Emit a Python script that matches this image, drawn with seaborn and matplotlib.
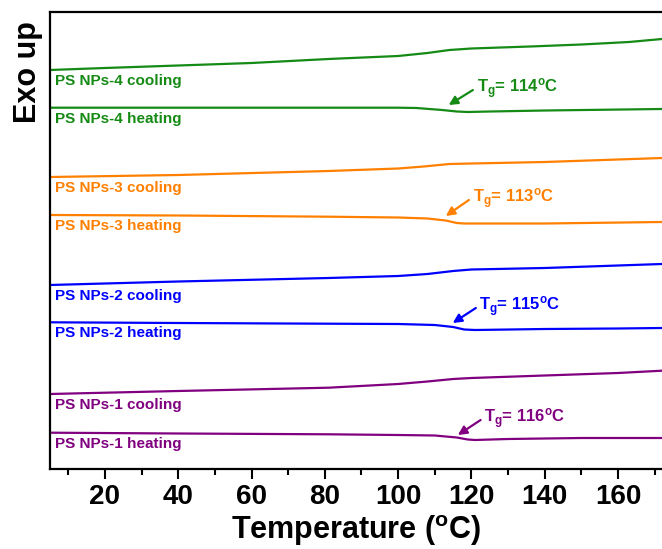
import matplotlib
matplotlib.use("Agg")
import matplotlib.pyplot as plt
import seaborn as sns
import pandas as pd

# ---- data (arbitrary heat-flow units) ----
t_g4c = [5, 20, 40, 60, 81, 100, 108, 114, 120, 136, 150, 163, 172]
y_g4c = [399, 401, 403.5, 406, 410, 413, 416, 419, 420.5, 422.5, 424.5, 427, 430]
t_g4h = [5, 40, 81, 100, 105, 112, 116, 119, 125, 140, 172]
y_g4h = [361.3, 361.3, 361.3, 361.3, 361, 359, 357.5, 357, 357.5, 358.5, 360]

t_o3c = [5, 40, 81, 100, 107, 114, 120, 140, 160, 172]
y_o3c = [292, 294, 298, 300.5, 302.5, 305, 305.5, 307, 309.5, 311]
t_o3h = [5, 40, 81, 100, 108, 113, 116, 118, 125, 140, 172]
y_o3h = [254, 253.5, 252.3, 251.5, 250.5, 248.5, 246, 245.5, 245.5, 245.5, 247]

t_b2c = [5, 40, 81, 100, 108, 115, 120, 140, 160, 172]
y_b2c = [184, 187.5, 191, 193, 195, 198, 199.5, 201, 203.5, 205]
t_b2h = [5, 40, 81, 100, 110, 115, 118, 121, 140, 160, 172]
y_b2h = [146.7, 146, 145.3, 145, 144, 142, 139.5, 139, 140, 140.5, 141]

t_p1c = [5, 40, 81, 100, 108, 115, 120, 140, 160, 172]
y_p1c = [75, 78, 81.3, 85, 87.5, 90, 91, 93.5, 96, 98.3]
t_p1h = [5, 40, 81, 100, 110, 116, 119, 121, 130, 150, 172]
y_p1h = [36.3, 35.5, 34.7, 34, 33.5, 31.5, 29.5, 29, 30, 31, 31]

curve_labels = ["PS NPs-4 cooling", "PS NPs-4 heating",
                "PS NPs-3 cooling", "PS NPs-3 heating",
                "PS NPs-2 cooling", "PS NPs-2 heating",
                "PS NPs-1 cooling", "PS NPs-1 heating"]
tg_texts = ["114", "113", "115", "116"]
tg_tip_x = [113.8, 113.0, 114.9, 116.3]
tg_tip_y = [364, 253, 146, 34]
tg_tail_x = [120.4, 119.3, 121.2, 122.5]
tg_tail_y = [379, 269, 161, 49]
x_ticks = [20, 40, 60, 80, 100, 120, 140, 160]

colors = ["#158a15", "#ff8000", "#0000ff", "#800080"]

curves = [(t_g4c, y_g4c), (t_g4h, y_g4h), (t_o3c, y_o3c), (t_o3h, y_o3h),
          (t_b2c, y_b2c), (t_b2h, y_b2h), (t_p1c, y_p1c), (t_p1h, y_p1h)]

sns.set_theme(style="white")
plt.rcParams["font.family"] = ["Liberation Sans", "DejaVu Sans"]
plt.rcParams["mathtext.fontset"] = "custom"
plt.rcParams["mathtext.rm"] = "Liberation Sans:bold"
plt.rcParams["mathtext.bf"] = "Liberation Sans:bold"
plt.rcParams["mathtext.it"] = "Liberation Sans:bold"
plt.rcParams["text.color"] = "black"
plt.rcParams["axes.labelcolor"] = "black"
plt.rcParams["xtick.color"] = "black"

fig = plt.figure(figsize=(6.62, 5.49), dpi=100)
ax = fig.add_axes([50 / 662, 80 / 549, 1 - 50 / 662, (469 - 12) / 549])

for i, ((tx, ty), lab) in enumerate(zip(curves, curve_labels)):
    c = colors[i // 2]
    df = pd.DataFrame({"T": tx, "y": ty})
    sns.lineplot(data=df, x="T", y="y", ax=ax, color=c, lw=1.6, sort=True)
    ax.text(6.5, ty[0] - 4, lab, color=c, fontsize=11, fontweight="bold",
            ha="left", va="top")

for k in range(4):
    c = colors[k]
    ax.annotate("", xy=(tg_tip_x[k], tg_tip_y[k]), xytext=(tg_tail_x[k], tg_tail_y[k]),
                arrowprops=dict(arrowstyle="-|>", color=c, lw=1.6,
                                mutation_scale=13, shrinkA=0, shrinkB=0))
    ax.text(tg_tail_x[k] + 1.0, tg_tail_y[k] + 1,
            r"T$_{\mathrm{g}}$= " + tg_texts[k] + r"$^{\mathrm{o}}$C",
            color=c, fontsize=12, fontweight="bold", ha="left", va="center")

ax.set_xlim(5, 172)
ax.set_ylim(0, 457)
ax.set_xticks(x_ticks)
ax.set_xticks(range(10, 172, 20), minor=True)
ax.set_yticks([])
ax.tick_params(axis="x", which="major", direction="out", length=7, width=1.5,
               labelsize=20, pad=4, bottom=True, colors="black")
ax.tick_params(axis="x", which="minor", direction="out", length=4, width=1.5,
               bottom=True, colors="black")
for lab in ax.get_xticklabels():
    lab.set_fontweight("bold")
ax.set_xlabel(r"Temperature ($^{\mathrm{o}}$C)", fontsize=22, fontweight="bold",
              labelpad=2, color="black")
ax.set_ylabel("Exo up", fontsize=22, fontweight="bold", color="black")
ax.yaxis.set_label_coords(-0.012, 0.869)
for s in ["left", "bottom", "top"]:
    ax.spines[s].set_linewidth(1.6)
    ax.spines[s].set_color("black")
ax.spines["right"].set_visible(False)

fig.savefig("out.png", dpi=100)
